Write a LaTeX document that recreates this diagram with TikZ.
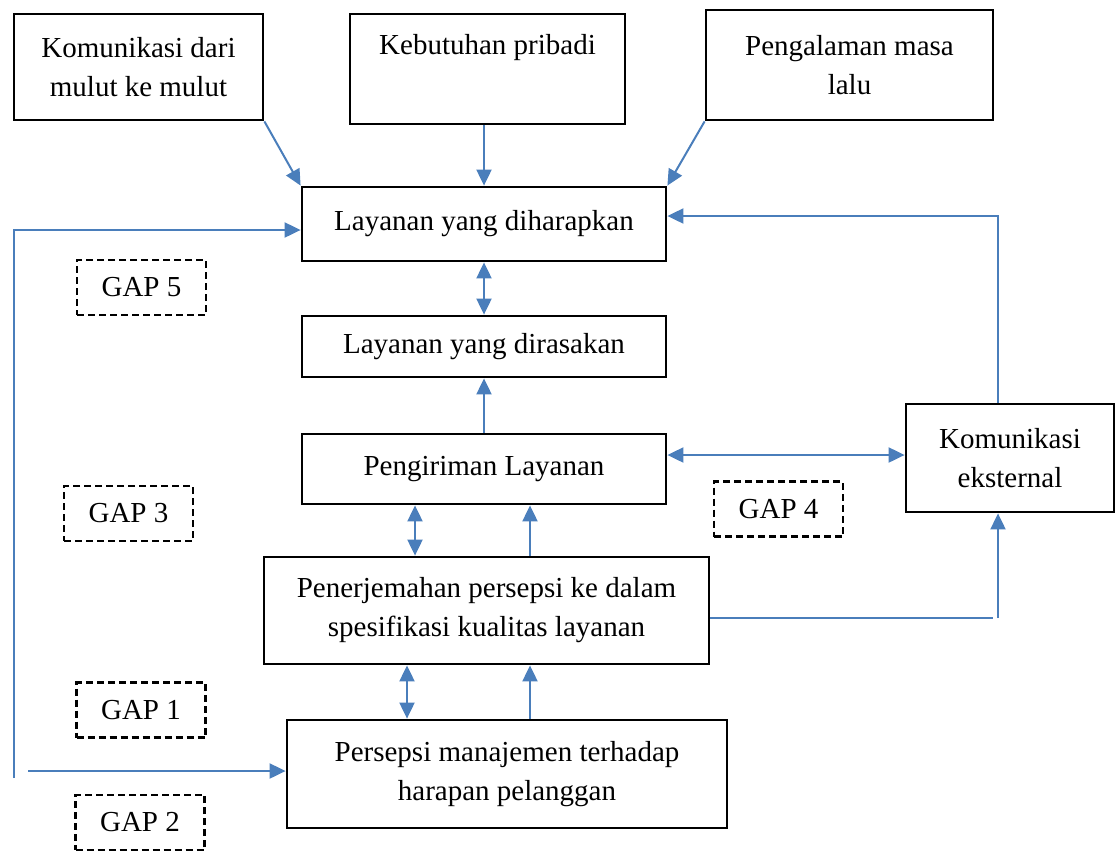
\documentclass[tikz,border=0pt]{standalone}
\usepackage{fontspec}
\setmainfont{Liberation Serif}
\usetikzlibrary{arrows.meta}
\definecolor{lnblue}{RGB}{74,126,187}
\begin{document}
\begin{tikzpicture}[x=1pt,y=-1pt,
  box/.style={draw,line width=2.8pt,inner sep=0pt,align=center,font=\fontsize{29}{39}\selectfont},
  gapbox/.style={draw,dashed,dash pattern=on 7pt off 4pt,line width=2.3pt,inner sep=0pt,minimum width=129,minimum height=55,font=\fontsize{29}{39}\selectfont},
  txt/.style={inner sep=0pt,font=\fontsize{29}{39}\selectfont},
  ln/.style={draw=lnblue,line width=2pt},
  arr/.style={ln,-{Triangle[length=16pt,width=15pt]}},
  darr/.style={ln,{Triangle[length=16pt,width=15pt]}-{Triangle[length=16pt,width=15pt]}}]
\useasboundingbox (0,0) rectangle (1118,852);
% top boxes
\node[box,minimum width=249,minimum height=106] (k1) at (138.5,67) {Komunikasi dari\\mulut ke mulut};
\node[box,minimum width=275,minimum height=110] (k2) at (487.5,69) {};
\node[txt] (k2t) at (487.5,48) {Kebutuhan pribadi};
\node[box,minimum width=287,minimum height=110] (k3) at (849.5,65) {Pengalaman masa\\lalu};
% middle column
\node[box,minimum width=364,minimum height=74] (L1) at (484,224) {Layanan yang diharapkan};
\node[box,minimum width=364,minimum height=61] (L2) at (484,346.5) {Layanan yang dirasakan};
\node[box,minimum width=364,minimum height=70] (L3) at (484,469) {Pengiriman Layanan};
\node[box,minimum width=208,minimum height=108] (KE) at (1010,458) {Komunikasi\\eksternal};
\node[box,minimum width=445,minimum height=107] (P1) at (486.5,610.5) {Penerjemahan persepsi ke dalam\\spesifikasi kualitas layanan};
\node[box,minimum width=440,minimum height=108] (P2) at (507,774) {Persepsi manajemen terhadap\\harapan pelanggan};
% gaps
\node[gapbox] (g5) at (141.5,287.5) {GAP 5};
\node[gapbox] (g3) at (128.5,513.5) {GAP 3};
\node[gapbox] (g4) at (778.5,509) {GAP 4};
\node[gapbox] (g1) at (141,710) {GAP 1};
\node[gapbox] (g2) at (140,822.5) {GAP 2};
% connectors
\draw[arr] (k1.south east) -- (L1.north west);
\draw[arr] (L1.north |- k2.south) -- (L1.north);
\draw[arr] (k3.south west) -- (L1.north east);
\coordinate (lb) at (14,778);
\draw[arr] (lb) |- ([yshift=-6pt]L1.west);
\coordinate (lc) at (28,771);
\draw[arr] (lc) -- (P2.west |- lc);
\draw[darr] (L1.south) -- (L2.north);
\draw[arr] (L3.north) -- (L2.south);
\path ([yshift=14pt]L3.east) coordinate (a4);
\draw[darr] (a4) -- (a4 -| KE.west);
\draw[arr] ([xshift=-12pt]KE.north) |- ([yshift=8pt]L1.east);
\draw[darr] ([xshift=-69pt]L3.south) -- ([xshift=-69pt]L3.south |- P1.north);
\draw[arr] ([xshift=46pt]L3.south |- P1.north) -- ([xshift=46pt]L3.south);
\coordinate (pk) at (993,618);
\draw[ln] ([yshift=-7.5pt]P1.east) -- (pk);
\coordinate (pk2) at (998,618);
\draw[arr] (pk2) -- (pk2 |- KE.south);
\draw[darr] ([xshift=-79.5pt]P1.south) -- ([xshift=-79.5pt]P1.south |- P2.north);
\draw[arr] ([xshift=43.5pt]P1.south |- P2.north) -- ([xshift=43.5pt]P1.south);
\end{tikzpicture}
\end{document}
